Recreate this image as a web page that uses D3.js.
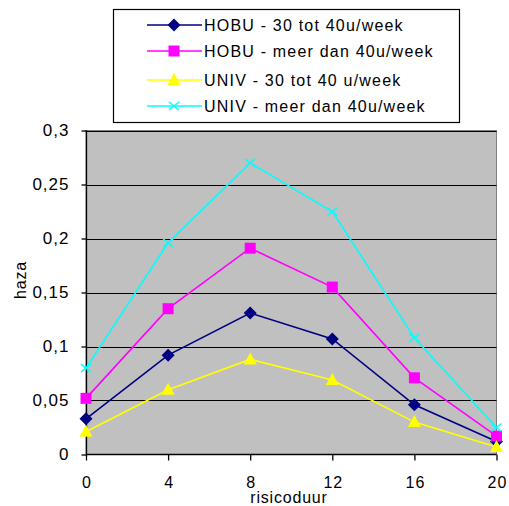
<!DOCTYPE html>
<html><head><meta charset="utf-8">
<script src="https://cdn.jsdelivr.net/npm/d3@7"></script>
<style>
html,body{margin:0;padding:0;background:#fff;}
svg{display:block;font-family:Arial,"Liberation Sans",sans-serif;}
</style></head>
<body>
<script>
const categories = [0, 4, 8, 12, 16, 20];
const seriesNames = ["HOBU - 30 tot 40u/week", "HOBU - meer dan 40u/week", "UNIV - 30 tot 40 u/week", "UNIV - meer dan 40u/week"];
const hobu3040 = [0.033, 0.092, 0.131, 0.107, 0.046, 0.012];
const hobuMeer = [0.052, 0.135, 0.191, 0.155, 0.071, 0.017];
const univ3040 = [0.021, 0.060, 0.088, 0.069, 0.030, 0.007];
const univMeer = [0.080, 0.196, 0.270, 0.225, 0.108, 0.025];
const yTicks = [0, 0.05, 0.1, 0.15, 0.2, 0.25, 0.3];
const yTickLabels = ["0", "0,05", "0,1", "0,15", "0,2", "0,25", "0,3"];
const colors = ["#000080", "#ff00ff", "#ffff00", "#00ffff"];
const markers = ["diamond", "square", "triangle", "x"];

const W = 509, H = 506;
const FONT = "Arial, 'Liberation Sans', sans-serif";
const svg = d3.select("body").append("svg").attr("width", W).attr("height", H);

const x = d3.scalePoint().domain(categories).range([86, 496.5]);
const y = d3.scaleLinear().domain([0, 0.3]).range([454.5, 130.5]);

// plot area
svg.append("rect").attr("x", 86).attr("y", y(0.3)).attr("width", 496.5 - 86).attr("height", y(0) - y(0.3))
  .attr("fill", "#c0c0c0").attr("stroke", "#808080").attr("stroke-width", 1);

// gridlines
svg.append("g").selectAll("line").data(yTicks.slice(1)).join("line")
  .attr("x1", 86).attr("x2", 496.5).attr("y1", d => Math.round(y(d)) + 0.5).attr("y2", d => Math.round(y(d)) + 0.5)
  .attr("stroke", "#000").attr("stroke-width", 1.2);

// y axis
const yAxis = d3.axisLeft(y).tickValues(yTicks).tickSize(5).tickPadding(12)
  .tickFormat((d, i) => yTickLabels[i]);
const gy = svg.append("g").attr("transform", "translate(86.5,0)").call(yAxis);
gy.selectAll("text").attr("font-size", 17).attr("letter-spacing", 1).attr("fill", "#000").attr("font-family", FONT);
gy.selectAll("line,path").attr("stroke", "#000").attr("stroke-width", 1.3);
gy.select(".domain").attr("d", `M0,${y(0.3)}V${y(0)}`);

// x axis
const xAxis = d3.axisBottom(x).tickSize(6).tickPadding(16);
const gx = svg.append("g").attr("transform", `translate(0,${y(0)})`).call(xAxis);
gx.selectAll("text").attr("font-size", 16).attr("letter-spacing", 1).attr("dx", 0.5).attr("fill", "#000").attr("font-family", FONT);
gx.selectAll("line,path").attr("stroke", "#000").attr("stroke-width", 1.3);
gx.select(".domain").attr("d", `M86,0H496.5`);

// axis titles
svg.append("text").attr("x", 289).attr("y", 503).attr("text-anchor", "middle").attr("font-size", 16).attr("letter-spacing", 0.8).text("risicoduur");
svg.append("text").attr("transform", "translate(26,280) rotate(-90)").attr("text-anchor", "middle").attr("font-size", 16).attr("letter-spacing", 0.8).text("haza");

const data = [hobu3040, hobuMeer, univ3040, univMeer];

function drawMarker(g, type, cx, cy, color) {
  if (type === "diamond") {
    g.append("path").attr("d", `M${cx},${cy-6.5}L${cx+6.5},${cy}L${cx},${cy+6.5}L${cx-6.5},${cy}Z`).attr("fill", color);
  } else if (type === "square") {
    g.append("rect").attr("x", cx - 5.5).attr("y", cy - 5.5).attr("width", 11).attr("height", 11).attr("fill", color);
  } else if (type === "triangle") {
    g.append("path").attr("d", `M${cx},${cy-7}L${cx+6.5},${cy+5}L${cx-6.5},${cy+5}Z`).attr("fill", color);
  } else {
    g.append("path").attr("d", `M${cx-5},${cy-4}L${cx+5},${cy+4}M${cx-5},${cy+4}L${cx+5},${cy-4}`).attr("stroke", color).attr("stroke-width", 1.5).attr("fill", "none");
  }
}

const line = d3.line().x((d, i) => x(categories[i])).y(d => y(d));
data.forEach((vals, si) => {
  svg.append("path").datum(vals).attr("d", line).attr("fill", "none").attr("stroke", colors[si]).attr("stroke-width", 1.6);
});
data.forEach((vals, si) => {
  const g = svg.append("g");
  vals.forEach((v, i) => drawMarker(g, markers[si], x(categories[i]), y(v), colors[si]));
});

// legend
svg.append("rect").attr("x", 113.5).attr("y", 9.5).attr("width", 346).attr("height", 113)
  .attr("fill", "#fff").attr("stroke", "#000").attr("stroke-width", 1.2);
const legY = [25, 51, 80, 106];
seriesNames.forEach((name, si) => {
  const g = svg.append("g");
  g.append("line").attr("x1", 147).attr("x2", 202).attr("y1", legY[si]).attr("y2", legY[si]).attr("stroke", colors[si]).attr("stroke-width", 1.6);
  drawMarker(g, markers[si], 174, legY[si], colors[si]);
  g.append("text").attr("x", 204).attr("y", legY[si] + 6).attr("font-size", 16).attr("letter-spacing", 1.2).attr("fill", "#000").text(name);
});
</script>
</body></html>
